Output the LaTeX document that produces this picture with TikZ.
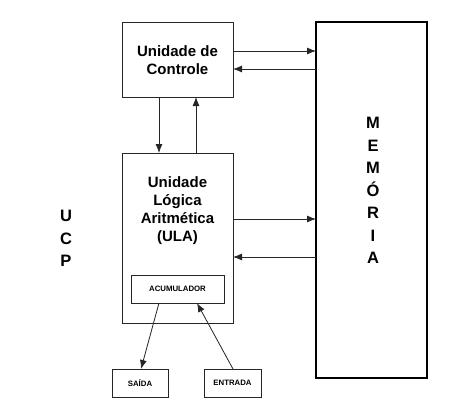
\documentclass[tikz,border=0pt]{standalone}
\usepackage{fontspec}
\setmainfont{Liberation Sans}
\usetikzlibrary{arrows.meta}
\begin{document}
\begin{tikzpicture}[x=1pt,y=-1pt,
  box/.style={draw=black!85,line width=0.8pt,inner sep=0pt,outer sep=0pt},
  memstyle/.style={draw=black,line width=1.6pt,inner sep=0pt,outer sep=0pt},
  arr/.style={draw=black!85,line width=0.8pt,-{Latex[length=9pt,width=7pt]}},
  big/.style={font=\fontsize{15}{18}\selectfont\bfseries,align=center},
  vert/.style={font=\fontsize{16.5}{22.5}\selectfont\bfseries,align=center},
  small/.style={font=\fontsize{7.8}{9}\selectfont\bfseries}]
\useasboundingbox (0,0) rectangle (474,415);
\node[box,minimum width=111pt,minimum height=75pt] (ctrl) at (177.5,59.5) {};
\node[big] (ctrltxt) at (177.5,60) {Unidade de\\Controle};
\node[box,minimum width=111pt,minimum height=170pt] (ula) at (177.5,238) {};
\node[big] (ulatxt) at (177.5,210.5) {Unidade\\Lógica\\Aritmética\\(ULA)};
\node[box,minimum width=93pt,minimum height=28pt] (acum) at (177.5,289) {};
\node[small] (acumtxt) at (177.5,289) {ACUMULADOR};
\node[memstyle,minimum width=111pt,minimum height=356pt] (mem) at (371.5,200) {};
\node[vert] (memtxt) at (373,190.5) {M\\E\\M\\Ó\\R\\I\\A};
\node[vert] (ucp) at (66,238.5) {U\\C\\P};
\node[box,minimum width=56pt,minimum height=28pt,small] (saida) at (140,383) {SAÍDA};
\node[box,minimum width=57pt,minimum height=28pt,small] (entrada) at (232.5,383) {ENTRADA};
\draw[arr] (ctrl.east |- 0,51) -- (mem.west |- 0,51);
\draw[arr] (mem.west |- 0,69) -- (ctrl.east |- 0,69);
\draw[arr] (ula.east |- 0,219) -- (mem.west |- 0,219);
\draw[arr] (mem.west |- 0,257) -- (ula.east |- 0,257);
\draw[arr] (ctrl.south -| 159,0) -- (ula.north -| 159,0);
\draw[arr] (ula.north -| 196,0) -- (ctrl.south -| 196,0);
\draw[arr] (acum.south -| 159,0) -- (saida.north -| 141,0);
\draw[arr] (entrada.north -| 233,0) -- (acum.south -| 197,0);
\end{tikzpicture}
\end{document}
